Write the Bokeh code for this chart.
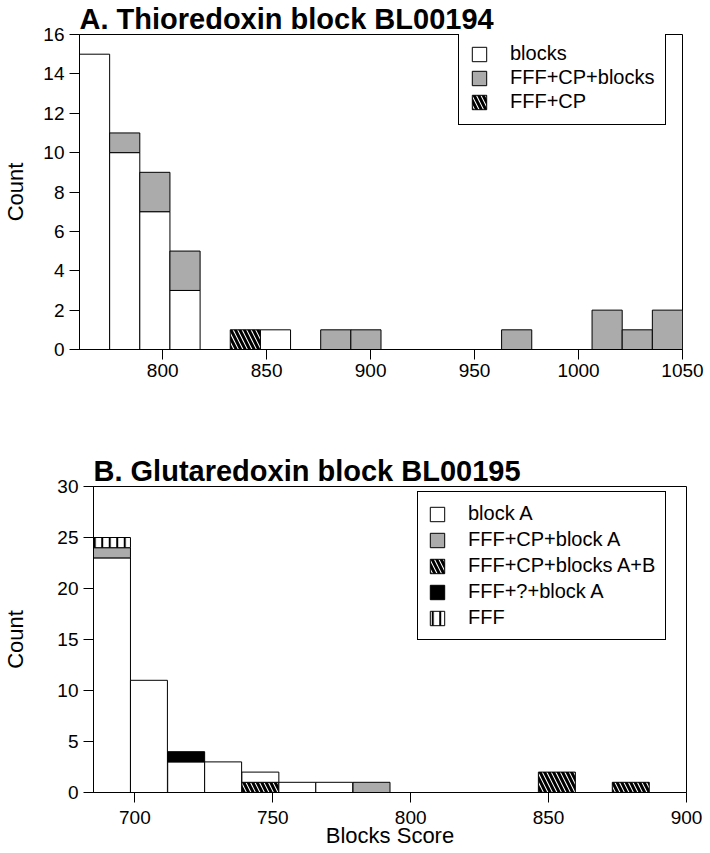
import numpy as np
from bokeh.plotting import figure
from bokeh.models import ColumnDataSource, Range1d, FixedTicker, Legend, LegendItem
from bokeh.layouts import column
from bokeh.embed import file_html
from bokeh.resources import INLINE

# ---------------- Panel A data ----------------
a_title = "A. Thioredoxin block BL00194"
a_bin_width = 14.5
a_bin_left = [760, 774.5, 789, 803.5, 832.5, 847, 876, 890.5, 963, 1006.5, 1021, 1035.5]
a_blocks = [15, 10, 7, 3, 0, 1, 0, 0, 0, 0, 0, 0]
a_fff_cp_blocks = [0, 1, 2, 2, 0, 0, 1, 1, 1, 2, 1, 2]
a_fff_cp = [0, 0, 0, 0, 1, 0, 0, 0, 0, 0, 0, 0]
a_xticks = [800, 850, 900, 950, 1000, 1050]
a_yticks = [0, 2, 4, 6, 8, 10, 12, 14, 16]

# ---------------- Panel B data ----------------
b_title = "B. Glutaredoxin block BL00195"
b_bin_width = 13.4
b_bin_left = [685, 698.4, 711.9, 725.3, 738.8, 752.2, 765.6, 779.1, 846.3, 873.1]
b_fff_cp_blocks_ab = [0, 0, 0, 0, 1, 0, 0, 0, 2, 1]
b_block_a = [23, 11, 3, 3, 1, 1, 1, 0, 0, 0]
b_fff_cp_block_a = [1, 0, 0, 0, 0, 0, 0, 1, 0, 0]
b_fff_q_block_a = [0, 0, 1, 0, 0, 0, 0, 0, 0, 0]
b_fff = [1, 0, 0, 0, 0, 0, 0, 0, 0, 0]
b_xticks = [700, 750, 800, 850, 900]
b_yticks = [0, 5, 10, 15, 20, 25, 30]

FONT = "Liberation Sans"
GRAY = "#ababab"
STYLE_WHITE = dict(fill_color="white")
STYLE_GRAY = dict(fill_color=GRAY)
STYLE_BLACK = dict(fill_color="black")
STYLE_DIAG = dict(fill_color="white", hatch_pattern="left_diagonal_line",
                  hatch_color="black", hatch_weight=3, hatch_scale=9)
STYLE_VERT = dict(fill_color="white", hatch_pattern="vertical_line",
                  hatch_color="black", hatch_weight=2, hatch_scale=7.5)


def make_fig(title, xr, yr, xticks, yticks, height, mbl, mbr, mbt, mbb,
             ylabel_standoff, xlabel_standoff, xlabel=None):
    p = figure(width=710, height=height, x_range=Range1d(*xr), y_range=Range1d(*yr),
               output_backend="svg", toolbar_location=None,
               min_border_left=mbl, min_border_right=mbr,
               min_border_top=mbt, min_border_bottom=mbb)
    p.frame_align = False
    p.title.text = title
    p.title.text_font = FONT
    p.title.text_font_size = "29px"
    p.title.text_font_style = "bold"
    p.title.text_color = "black"
    p.title.standoff = 0
    p.title.align = "left"
    p.grid.visible = False
    p.background_fill_color = "white"
    p.border_fill_color = "white"
    p.outline_line_color = "black"
    p.outline_line_alpha = 1
    p.outline_line_width = 1
    for ax in (p.xaxis[0], p.yaxis[0]):
        ax.major_tick_out = 10
        ax.major_tick_in = 0
        ax.minor_tick_out = 0
        ax.minor_tick_in = 0
        ax.axis_line_color = "black"
        ax.major_tick_line_color = "black"
        ax.major_label_text_font = FONT
        ax.major_label_text_font_size = "19px"
        ax.major_label_text_color = "black"
        ax.major_label_standoff = 5
        ax.axis_label_text_font = FONT
        ax.axis_label_text_font_size = "22px"
        ax.axis_label_text_font_style = "normal"
        ax.axis_label_text_color = "black"
    p.xaxis.major_label_standoff = xlabel_standoff
    p.xaxis.ticker = FixedTicker(ticks=xticks)
    p.yaxis.ticker = FixedTicker(ticks=yticks)
    p.yaxis.axis_label = "Count"
    p.yaxis.axis_label_standoff = ylabel_standoff
    if xlabel:
        p.xaxis.axis_label = xlabel
        p.xaxis.axis_label_standoff = -4
    return p


def add_stack(p, lefts, width, series):
    base = np.zeros(len(lefts))
    rends = {}
    for label, counts, style in series:
        c = np.array(counts, dtype=float)
        mask = c > 0
        x = np.array(lefts, dtype=float)[mask] + width / 2.0
        src = ColumnDataSource(dict(x=x, bottom=base[mask], top=(base + c)[mask]))
        r = p.vbar(x="x", width=width, bottom="bottom", top="top", source=src,
                   line_color="black", line_width=1, **style)
        rends[label] = r
        base = base + c
    return rends


def add_legend(p, rends, order, loc, padding, spacing):
    leg = Legend(items=[LegendItem(label=k, renderers=[rends[k]]) for k in order],
                 location=loc, margin=0, padding=padding, spacing=spacing,
                 glyph_width=18, glyph_height=18, label_height=20,
                 label_standoff=22, label_text_font=FONT,
                 label_text_font_size="20px", label_text_color="black",
                 border_line_color="black", border_line_width=1, border_line_alpha=1,
                 background_fill_color="white", background_fill_alpha=1)
    p.add_layout(leg)


# ---------------- Panel A ----------------
pa = make_fig(a_title, (760, 1050), (0, 16), a_xticks, a_yticks, 400,
              79, 28, 33, 51, 12, 4)
ra = add_stack(pa, a_bin_left, a_bin_width, [
    ("blocks", a_blocks, STYLE_WHITE),
    ("FFF+CP+blocks", a_fff_cp_blocks, STYLE_GRAY),
    ("FFF+CP", a_fff_cp, STYLE_DIAG),
])
add_legend(pa, ra, ["blocks", "FFF+CP+blocks", "FFF+CP"], (379, 224), 11, 1)

# ---------------- Panel B ----------------
pb = make_fig(b_title, (685, 900), (0, 30), b_xticks, b_yticks, 453,
              93, 24, 86, 61, 26, 8, xlabel="Blocks Score")
rb = add_stack(pb, b_bin_left, b_bin_width, [
    ("FFF+CP+blocks A+B", b_fff_cp_blocks_ab, STYLE_DIAG),
    ("block A", b_block_a, STYLE_WHITE),
    ("FFF+CP+block A", b_fff_cp_block_a, STYLE_GRAY),
    ("FFF+?+block A", b_fff_q_block_a, STYLE_BLACK),
    ("FFF", b_fff, STYLE_VERT),
])
add_legend(pb, rb, ["block A", "FFF+CP+block A", "FFF+CP+blocks A+B",
                    "FFF+?+block A", "FFF"], (324, 152), 10, 3)

layout = column(pa, pb, spacing=0)
open("out.html", "w").write(file_html(layout, INLINE))
